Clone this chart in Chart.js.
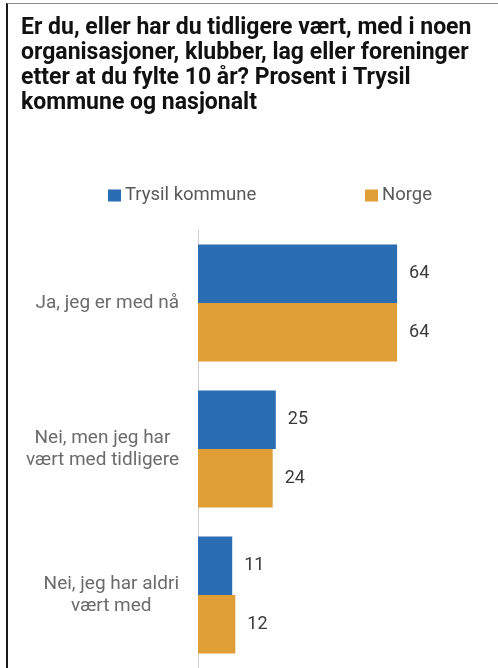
<!DOCTYPE html>
<html><head><meta charset="utf-8">
<script src="https://cdn.jsdelivr.net/npm/chart.js@4.4.1/dist/chart.umd.min.js"></script>
<style>
html,body{margin:0;padding:0;background:#fff;}
#wrap{position:relative;width:498px;height:668px;overflow:hidden;}
#frame{position:absolute;left:6px;top:3px;width:492px;height:665px;border-top:1px solid #8a8a8a;border-left:2px solid #1a1a1a;pointer-events:none;}
canvas{position:absolute;left:0;top:0;}
</style></head><body>
<div id="wrap"><canvas id="c" width="498" height="668"></canvas><div id="frame"></div></div>
<script>
const titleLines = [
  "Er du, eller har du tidligere vært, med i noen",
  "organisasjoner, klubber, lag eller foreninger",
  "etter at du fylte 10 år? Prosent i Trysil",
  "kommune og nasjonalt"
];
const categories = [
  ["Ja, jeg er med nå"],
  ["Nei, men jeg har", "vært med tidligere"],
  ["Nei, jeg har aldri", "vært med"]
];
const seriesNames = ["Trysil kommune", "Norge"];
const trysilValues = [64, 25, 11];
const norgeValues = [64, 24, 12];
const seriesColors = ["#2b6db3", "#df9e36"];

const FONT = "Roboto, 'Liberation Sans', sans-serif";

const customDraw = {
  id: 'customDraw',
  afterDraw(chart) {
    const ctx = chart.ctx;
    const yScale = chart.scales.y;
    ctx.save();
    // legend
    const legendY = 195.5;
    const legendX = [108, 365];
    ctx.font = "18.5px " + FONT;
    ctx.textBaseline = 'middle';
    ctx.textAlign = 'left';
    seriesNames.forEach((name, i) => {
      ctx.fillStyle = seriesColors[i];
      ctx.fillRect(legendX[i], legendY - 6, 13, 12);
      ctx.fillStyle = '#595959';
      ctx.fillText(name, legendX[i] + 17, legendY);
    });
    // category labels
    ctx.font = "19px " + FONT;
    ctx.fillStyle = '#6b6b6b';
    ctx.textAlign = 'center';
    categories.forEach((lines, i) => {
      const cy = yScale.getPixelForValue(i);
      const maxW = Math.max(...lines.map(l => ctx.measureText(l).width));
      const cx = 179 - maxW / 2;
      lines.forEach((l, j) => {
        ctx.fillText(l, cx, cy + (j - (lines.length - 1) / 2) * 22);
      });
    });
    // value labels
    ctx.font = "18px " + FONT;
    ctx.fillStyle = '#3a3a3a';
    ctx.textAlign = 'left';
    chart.data.datasets.forEach((ds, di) => {
      const meta = chart.getDatasetMeta(di);
      meta.data.forEach((el, i) => {
        ctx.fillText(String(ds.data[i]), el.x + 12, el.y);
      });
    });
    ctx.restore();
  }
};

new Chart(document.getElementById('c'), {
  type: 'bar',
  data: {
    labels: categories,
    datasets: [
      { label: seriesNames[0], data: trysilValues, backgroundColor: seriesColors[0], borderWidth: 0, categoryPercentage: 0.8, barPercentage: 1.0 },
      { label: seriesNames[1], data: norgeValues, backgroundColor: seriesColors[1], borderWidth: 0, categoryPercentage: 0.8, barPercentage: 1.0 }
    ]
  },
  options: {
    indexAxis: 'y',
    responsive: false,
    animation: false,
    layout: { padding: { top: 0, left: 21, right: 20, bottom: 0 } },
    plugins: {
      legend: { display: false },
      tooltip: { enabled: false },
      title: {
        display: true,
        text: titleLines,
        align: 'start',
        color: '#111111',
        font: { family: FONT, size: 23, weight: 'bold', lineHeight: '25px' },
        padding: { top: 16, bottom: 114 }
      }
    },
    scales: {
      x: { display: false, min: 0, max: 90 },
      y: {
        ticks: { display: false },
        grid: { display: false },
        border: { display: true, color: '#d0d0d0', width: 1 },
        afterFit: (s) => { s.width = 177; }
      }
    }
  },
  plugins: [customDraw]
});
</script>
</body></html>
